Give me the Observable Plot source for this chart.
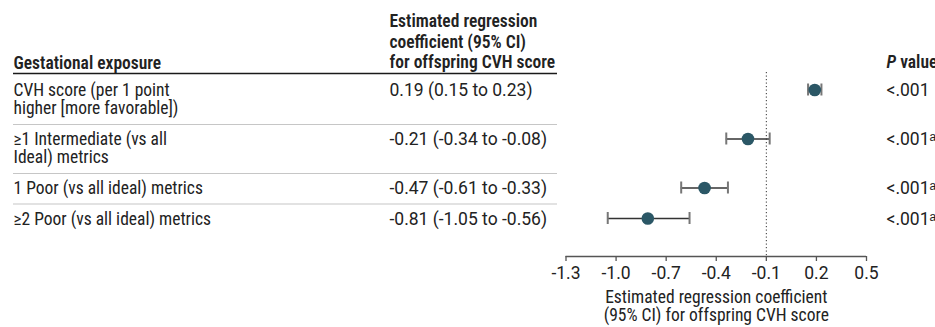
<!DOCTYPE html>
<html>
<head>
<meta charset="utf-8">
<script src="https://cdn.jsdelivr.net/npm/d3@7"></script>
<script src="https://cdn.jsdelivr.net/npm/@observablehq/plot@0.6"></script>
<style>
  html, body { margin: 0; padding: 0; background: #fff; }
  #chart svg { display: block; }
</style>
</head>
<body>
<div id="chart"></div>
<script>
// ---------- data ----------
const exposures = [
  "CVH score (per 1 point\nhigher [more favorable])",
  "≥1 Intermediate (vs all\nIdeal) metrics",
  "1 Poor (vs all ideal) metrics",
  "≥2 Poor (vs all ideal) metrics"
];
const estimates = [0.19, -0.21, -0.47, -0.81];
const lowerCI = [0.15, -0.34, -0.61, -1.05];
const upperCI = [0.23, -0.08, -0.33, -0.56];
const pValues = ["<.001", "<.001", "<.001", "<.001"];
const pNotes = ["", "a", "a", "a"];
const xTicks = [-1.3, -1.0, -0.7, -0.4, -0.1, 0.2, 0.5];
const referenceValue = -0.1;

const headerExposure = "Gestational exposure";
const headerEstimate = "Estimated regression\ncoefficient (95% CI)\nfor offspring CVH score";
const headerP = "P value";
const axisTitle = "Estimated regression coefficient\n(95% CI) for offspring CVH score";

// ---------- layout ----------
const W = 935, H = 327;
const FONT = "'Roboto Condensed', Roboto, sans-serif";
const NUMFONT = "Roboto, sans-serif";
const FS = 17.5;
const LINE = 18.5;        // px per body text line
const HEAD_LINE = 20.8;   // px per header text line
const ROW_PAD = 12;       // extra px per row
const HEAD_RULE = 73.5;   // header underline
const TABLE_TOP = 75.5;   // first row top
const HEAD_BASE = 68;     // header last baseline
const COL_LABEL = 13, COL_EST = 389, COL_P = 886, TABLE_RIGHT = 557;
const PLOT_LEFT = 565.5, PLOT_RIGHT = 866, AXIS_Y = 256, PLOT_TOP = 72;
const TEXT = "#222";

const loc = d3.formatLocale({decimal: ".", thousands: ",", grouping: [3], currency: ["$", ""], minus: "-"});
const f2 = loc.format(".2f"), f1 = loc.format(".1f");
const supA = {"a": "ᵃ", "": ""};

// y (top of text box) so that the last line's baseline lands on `baseline`
const topFor = (baseline, lines, lineH) => baseline - (lines - 1) * lineH - 0.71 * lineH;

// build rows
let cursor = TABLE_TOP;
const rows = exposures.map((label, i) => {
  const lines = label.split("\n").length;
  const top = cursor;
  cursor += ROW_PAD + LINE * lines;
  return {
    label, top,
    y: top + 14,
    textY: topFor(top + 20, 1, LINE),
    est: estimates[i], lo: lowerCI[i], hi: upperCI[i],
    estText: `${f2(estimates[i])} (${f2(lowerCI[i])} to ${f2(upperCI[i])})`,
    pText: pValues[i] + supA[pNotes[i]]
  };
});
const caps = rows.flatMap(d => [{x: d.lo, y: d.y}, {x: d.hi, y: d.y}]);

// table rules (header underline + row separators), drawn as a custom mark
function tableRules() {
  const g = d3.create("svg:g");
  g.append("line").attr("x1", COL_LABEL).attr("x2", TABLE_RIGHT)
    .attr("y1", HEAD_RULE).attr("y2", HEAD_RULE)
    .attr("stroke", "#1a1a1a").attr("stroke-width", 1.3);
  rows.slice(1).forEach(r => {
    g.append("line").attr("x1", COL_LABEL).attr("x2", TABLE_RIGHT)
      .attr("y1", r.top).attr("y2", r.top)
      .attr("stroke", "#c6c6c6").attr("stroke-width", 1.2);
  });
  return g.node();
}

const bodyText = {fill: TEXT, fontSize: FS, fontFamily: FONT, lineHeight: LINE / FS, textAnchor: "start", lineAnchor: "top", frameAnchor: "left"};
const headText = {...bodyText, lineHeight: HEAD_LINE / FS, fontWeight: 600};

const chart = Plot.plot({
  width: W, height: H,
  marginLeft: PLOT_LEFT, marginRight: W - PLOT_RIGHT,
  marginTop: PLOT_TOP, marginBottom: H - AXIS_Y,
  style: {fontFamily: FONT, fontSize: FS + "px", color: TEXT, background: "#fff"},
  x: {domain: [xTicks[0], xTicks[xTicks.length - 1]]},
  y: {type: "identity", axis: null},
  marks: [
    tableRules,
    // headers
    Plot.text([headerExposure], {...headText, text: d => d, y: () => topFor(HEAD_BASE, 1, HEAD_LINE), dx: COL_LABEL - PLOT_LEFT}),
    Plot.text([headerEstimate], {...headText, text: d => d, y: () => topFor(HEAD_BASE, 3, HEAD_LINE), dx: COL_EST - PLOT_LEFT}),
    Plot.text([headerP], {...headText, text: d => d, y: () => topFor(HEAD_BASE - 1, 1, HEAD_LINE), dx: COL_P - PLOT_LEFT}),
    // table body
    Plot.text(rows, {...bodyText, text: "label", y: "textY", dx: COL_LABEL - PLOT_LEFT}),
    Plot.text(rows, {...bodyText, fontFamily: NUMFONT, text: "estText", y: "textY", dx: COL_EST - PLOT_LEFT}),
    Plot.text(rows, {...bodyText, fontFamily: NUMFONT, text: "pText", y: "textY", dx: COL_P - PLOT_LEFT}),
    // reference line
    Plot.ruleX([referenceValue], {stroke: "#333", strokeWidth: 1, strokeDasharray: "1.2,2.3"}),
    // axis
    Plot.ruleY([AXIS_Y], {x1: xTicks[0], x2: xTicks[xTicks.length - 1], stroke: "#555", strokeWidth: 1.3}),
    Plot.axisX({ticks: xTicks, tickFormat: f1, tickSize: 5, tickPadding: 5, stroke: "#555", strokeWidth: 1.3, fill: TEXT, fontSize: FS, fontFamily: NUMFONT, label: null}),
    Plot.text([axisTitle], {text: d => d, frameAnchor: "bottom", lineAnchor: "top", dy: topFor(302, 1, LINE) - AXIS_Y, fontSize: FS, fontFamily: FONT, fill: TEXT, lineHeight: LINE / FS}),
    // CI whiskers and caps
    Plot.ruleY(rows, {y: "y", x1: "lo", x2: "hi", stroke: "#333", strokeWidth: 1.3}),
    Plot.ruleX(caps, {x: "x", y1: d => d.y - 6, y2: d => d.y + 6, stroke: "#777", strokeWidth: 2}),
    // point estimates
    Plot.dot(rows, {x: "est", y: "y", r: 6.3, fill: "#2b5766", stroke: "none"})
  ]
});

// italic P in the header
d3.select(chart).selectAll("text").filter(function () { return this.textContent === headerP; })
  .each(function () {
    const t = d3.select(this);
    t.text(null);
    t.append("tspan").attr("font-style", "italic").text("P");
    t.append("tspan").text(" value");
  });

document.getElementById("chart").append(chart);
</script>
</body>
</html>
